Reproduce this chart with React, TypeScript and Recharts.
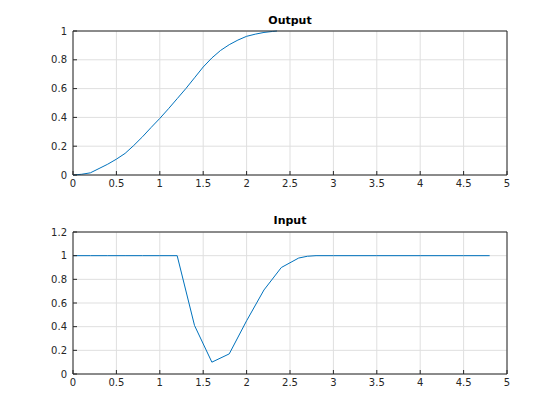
import React from 'react';
import { LineChart, Line, XAxis, YAxis, CartesianGrid } from 'recharts';

const outT = [0, 0.1, 0.2, 0.3, 0.4, 0.5, 0.6, 0.7, 0.8, 0.9, 1.0, 1.1, 1.2, 1.3, 1.4, 1.5, 1.6, 1.7, 1.8, 1.9, 2.0, 2.1, 2.2, 2.3, 2.35];
const outY = [0, 0.005, 0.015, 0.045, 0.075, 0.11, 0.15, 0.205, 0.265, 0.33, 0.393, 0.46, 0.53, 0.6, 0.675, 0.75, 0.813, 0.865, 0.905, 0.937, 0.963, 0.978, 0.99, 0.997, 1.0];

const inT = [0, 0.2, 0.4, 0.6, 0.8, 1.0, 1.2, 1.4, 1.6, 1.8, 2.0, 2.2, 2.4, 2.6, 2.7, 2.8, 3.0, 3.5, 4.0, 4.5, 4.8];
const inY = [1, 1, 1, 1, 1, 1, 1, 0.41, 0.1, 0.17, 0.45, 0.71, 0.9, 0.98, 0.995, 1, 1, 1, 1, 1, 1];

const xTicks = [0, 0.5, 1, 1.5, 2, 2.5, 3, 3.5, 4, 4.5, 5];
const outTicks = [0, 0.2, 0.4, 0.6, 0.8, 1];
const inTicks = [0, 0.2, 0.4, 0.6, 0.8, 1, 1.2];

const outData = outT.map((t, i) => ({ t, v: outY[i] }));
const inData = inT.map((t, i) => ({ t, v: inY[i] }));

const AX = '#262626';
const FONT = 'DejaVu Sans, Liberation Sans, sans-serif';
const tickStyle = { fill: AX, fontSize: 10, fontFamily: FONT };

function Panel({ data, yTicks, yMax, margin }: { data: any[]; yTicks: number[]; yMax: number; margin: any }) {
  return (
    <LineChart width={560} height={210} data={data} margin={margin}>
      <CartesianGrid stroke="#dfdfdf" strokeWidth={1} />
      <XAxis
        dataKey="t"
        type="number"
        domain={[0, 5]}
        ticks={xTicks}
        height={20}
        tick={tickStyle}
        tickSize={-4}
        tickMargin={9}
        stroke={AX}
        interval={0}
      />
      <XAxis
        xAxisId="top"
        orientation="top"
        type="number"
        domain={[0, 5]}
        ticks={xTicks}
        height={5}
        tick={false}
        tickSize={-4}
        stroke={AX}
        interval={0}
      />
      <YAxis
        type="number"
        domain={[0, yMax]}
        ticks={yTicks}
        width={30}
        tick={tickStyle}
        tickSize={-4}
        tickMargin={10}
        stroke={AX}
        interval={0}
      />
      <YAxis
        yAxisId="right"
        orientation="right"
        type="number"
        domain={[0, yMax]}
        ticks={yTicks}
        width={5}
        tick={false}
        tickSize={-4}
        stroke={AX}
        interval={0}
      />
      <Line type="linear" dataKey="v" stroke="#0072BD" strokeWidth={1} dot={false} isAnimationActive={false} />
    </LineChart>
  );
}

const titleStyle: React.CSSProperties = {
  position: 'absolute',
  left: 73,
  width: 434,
  textAlign: 'center',
  fontFamily: FONT,
  fontWeight: 'bold',
  fontSize: 11,
  color: '#000',
  lineHeight: '12px',
};

export default function App() {
  return (
    <div style={{ position: 'absolute', left: 0, top: 0, width: 560, height: 420, background: '#fff' }}>
      <div style={{ position: 'absolute', left: 0, top: 0 }}>
        <Panel data={outData} yTicks={outTicks} yMax={1} margin={{ top: 26, right: 48, bottom: 15, left: 43 }} />
      </div>
      <div style={{ position: 'absolute', left: 0, top: 210 }}>
        <Panel data={inData} yTicks={inTicks} yMax={1.2} margin={{ top: 17, right: 48, bottom: 26, left: 43 }} />
      </div>
      <div style={{ ...titleStyle, top: 15 }}>Output</div>
      <div style={{ ...titleStyle, top: 215 }}>Input</div>
    </div>
  );
}
